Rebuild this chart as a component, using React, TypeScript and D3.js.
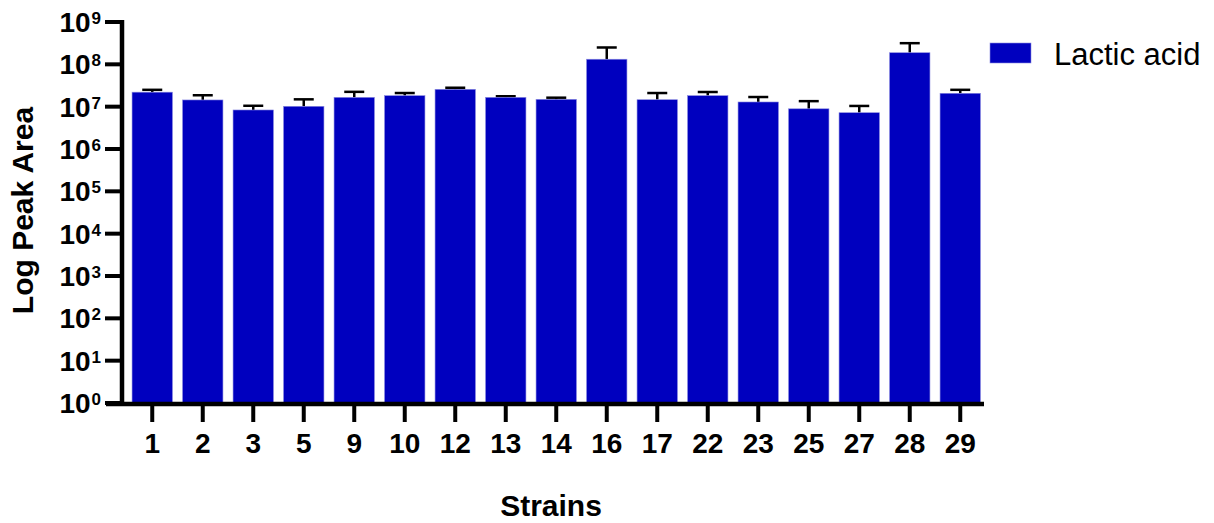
import React from "react";
import * as d3 from "d3";

const strains = ["1", "2", "3", "5", "9", "10", "12", "13", "14", "16", "17", "22", "23", "25", "27", "28", "29"];
const means = [2.2e7, 1.44e7, 8.35e6, 1.02e7, 1.66e7, 1.82e7, 2.57e7, 1.66e7, 1.49e7, 1.32e8, 1.46e7, 1.82e7, 1.29e7, 8.9e6, 7.2e6, 1.88e8, 2.07e7];
const upper = [2.5e7, 1.86e7, 1.05e7, 1.49e7, 2.24e7, 2.1e7, 2.8e7, 1.76e7, 1.63e7, 2.5e8, 2.1e7, 2.22e7, 1.69e7, 1.35e7, 1.04e7, 3.16e8, 2.5e7];
const yTickExps = [0, 1, 2, 3, 4, 5, 6, 7, 8, 9];
const seriesName = "Lactic acid";
const xTitle = "Strains";
const yTitle = "Log Peak Area";

const W = 1214;
const H = 523;
const FILL = "#0000BF";
const FONT = "'Liberation Sans', Arial, sans-serif";

export default function App() {
  const y = d3.scaleLog().domain([1, 1e9]).range([403, 22]);
  const x = d3.scaleBand<string>().domain(strains).range([127, 985.5]).paddingInner(0.2).paddingOuter(0.1);
  const bw = x.bandwidth();
  const y0 = y(1);
  return (
    <svg width={W} height={H} style={{ position: "absolute", left: 0, top: 0 }} fontFamily={FONT}>
      {strains.map((s, i) => {
        const xl = x(s)!;
        const yt = y(means[i]);
        const yc = y(upper[i]);
        const cx = xl + bw / 2;
        return (
          <g key={s}>
            <line x1={cx} x2={cx} y1={yt} y2={yc} stroke="#000" strokeWidth={2.5} />
            <line x1={cx - 10} x2={cx + 10} y1={yc} y2={yc} stroke="#000" strokeWidth={2.5} />
            <rect x={xl} y={yt} width={bw} height={y0 - yt} fill={FILL} stroke="#8a8ae0" strokeWidth={0.6} />
          </g>
        );
      })}
      <line x1={122} x2={122} y1={20} y2={405} stroke="#000" strokeWidth={4.5} />
      {yTickExps.map((e) => {
        const ty = y(Math.pow(10, e));
        return (
          <g key={e}>
            <line x1={105} x2={122} y1={ty} y2={ty} stroke="#000" strokeWidth={4} />
            <text x={101} y={ty + 10} textAnchor="end" fontWeight="bold" fontSize={28} fill="#000">
              10
              <tspan dx={1} dy={-8} fontSize={17}>{e}</tspan>
            </text>
          </g>
        );
      })}
      <line x1={106} x2={984} y1={404} y2={404} stroke="#000" strokeWidth={4.5} />
      {strains.map((s) => {
        const cx = x(s)! + bw / 2;
        return (
          <g key={"t" + s}>
            <line x1={cx} x2={cx} y1={404} y2={422} stroke="#000" strokeWidth={4} />
            <text x={cx} y={453} textAnchor="middle" fontWeight="bold" fontSize={28} fill="#000">{s}</text>
          </g>
        );
      })}
      <text x={551} y={516} textAnchor="middle" fontWeight="bold" fontSize={30} fill="#000">{xTitle}</text>
      <text transform={`translate(33,210.5) rotate(-90)`} textAnchor="middle" fontWeight="bold" fontSize={30} fill="#000">{yTitle}</text>
      <rect x={990} y={43} width={41} height={20} fill={FILL} stroke="#8a8ae0" strokeWidth={0.6} />
      <text x={1054} y={64.5} fontSize={31} fill="#000">{seriesName}</text>
    </svg>
  );
}
